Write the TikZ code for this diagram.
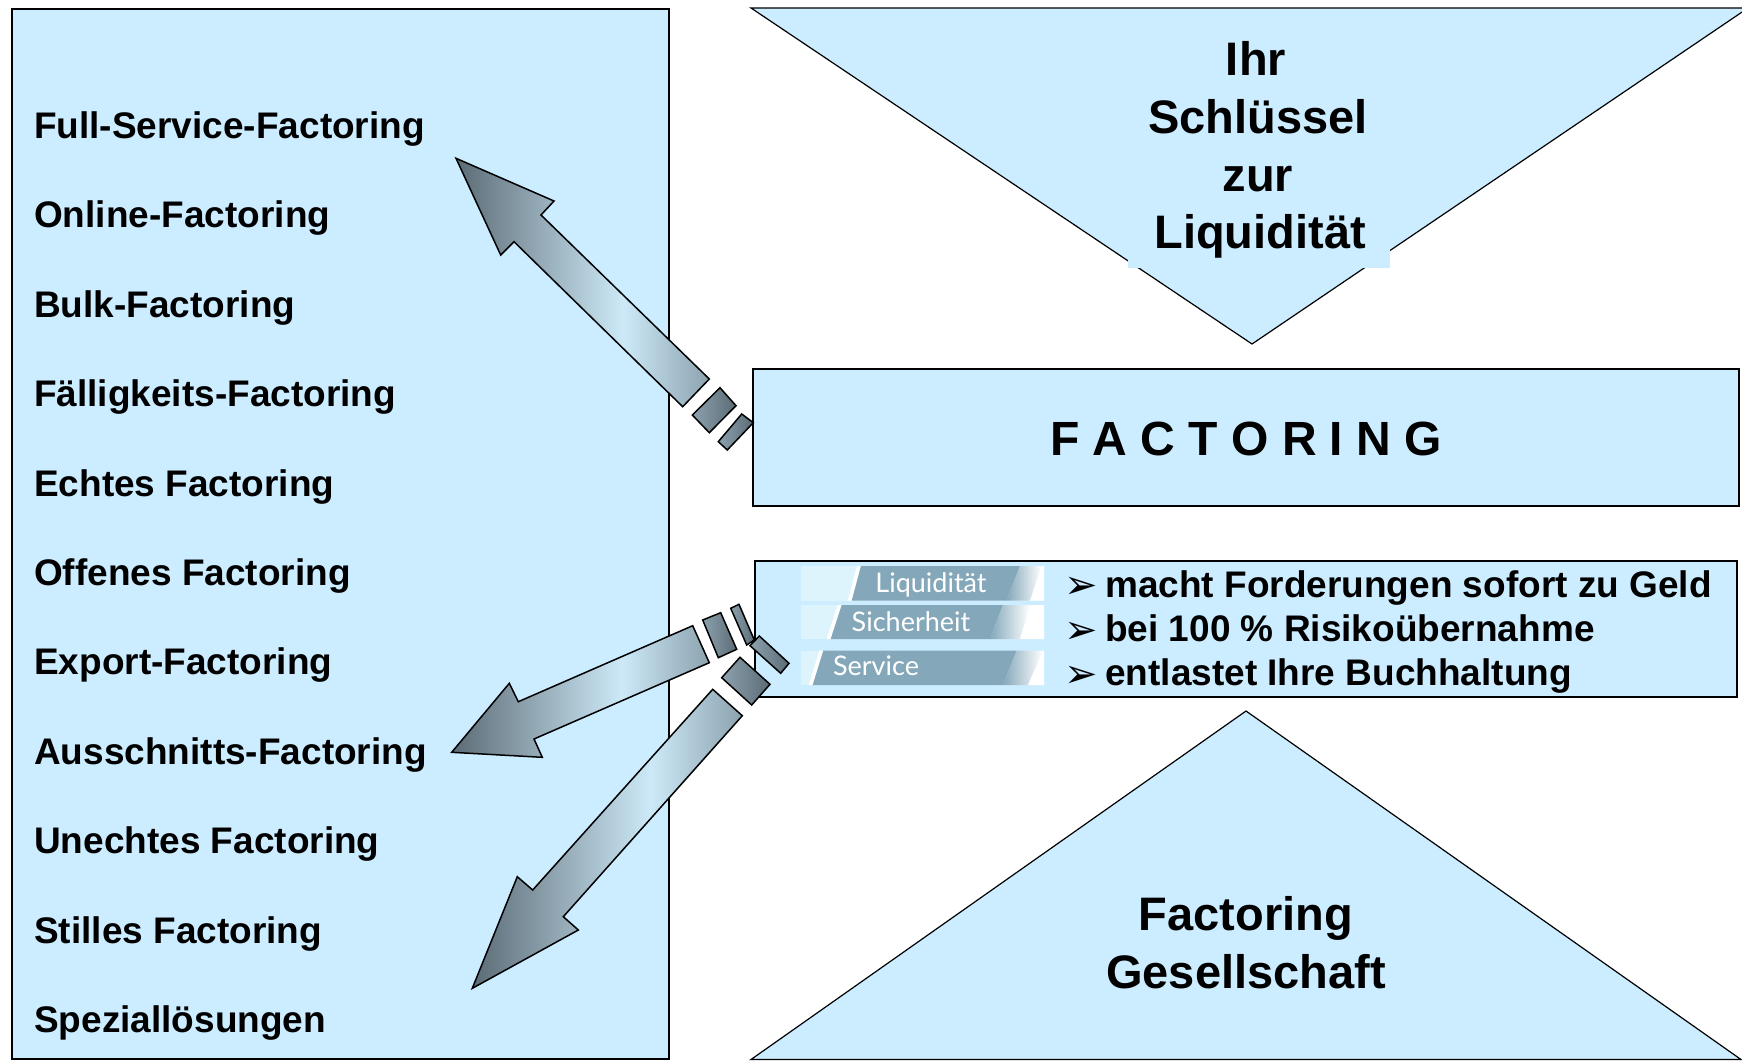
\documentclass[tikz,border=0pt]{standalone}
\usepackage{fontspec}
\setmainfont{Liberation Sans}
\newfontfamily\barfont{Lato}
\newfontfamily\symfont{DejaVu Sans}
\definecolor{panelblue}{HTML}{CCECFF}
\definecolor{adark}{HTML}{5B6B75}
\definecolor{alight}{HTML}{CDE9F7}
\definecolor{agray}{HTML}{8CA2AF}
\definecolor{barblue}{HTML}{84A8BA}
\definecolor{barlight}{HTML}{DDF4FC}
\pgfdeclarehorizontalshading{arrowshade}{100bp}{color(0bp)=(adark); color(25bp)=(adark); color(58bp)=(alight); color(75bp)=(agray); color(100bp)=(agray)}
\begin{document}
\begin{tikzpicture}[x=1pt,y=-1pt,
  panel/.style={fill=panelblue, draw=black, line width=1.6pt},
  tri/.style={fill=panelblue, draw=black, line width=1.2pt, line join=miter},
  arrowbody/.style={shade, shading=arrowshade, draw=black, line width=1.5pt, line join=miter},
  arrowpiece/.style={left color=agray, right color=adark, draw=black, line width=1.5pt, line join=miter},
  item/.style={anchor=base west, inner sep=0pt, font=\fontsize{37}{37}\selectfont\bfseries},
  bigtext/.style={anchor=base, inner sep=0pt, font=\fontsize{47}{47}\selectfont\bfseries},
  bartext/.style={anchor=base, inner sep=0pt, text=white, font=\barfont\fontsize{27}{27}\selectfont},
  bullet/.style={anchor=base west, inner sep=0pt, font=\symfont\fontsize{40}{40}\selectfont},
]
\useasboundingbox (0,0) rectangle (1742,1060);
\fill[white] (0,0) rectangle (1742,1060);

% left panel
\draw[panel] (12,9) rectangle (669,1059);
\foreach \t [count=\i] in {Full-Service-Factoring, Online-Factoring, Bulk-Factoring, Fälligkeits-Factoring, Echtes Factoring, Offenes Factoring, Export-Factoring, Ausschnitts-Factoring, Unechtes Factoring, Stilles Factoring, Speziallösungen}
  \node[item] (item\i) at (34,{138.3+(\i-1)*89.44}) {\t};

% top triangle
\draw[tri] (751,8) -- (1748,8) -- (1252,344) -- cycle;
\fill[panelblue] (1128,205) rectangle (1390,268);
\node[bigtext] (t1) at (1256,75) {Ihr};
\node[bigtext] (t2) at (1258,133) {Schlüssel};
\node[bigtext] (t3) at (1258,191) {zur};
\node[bigtext] (t4) at (1260,248) {Liquidität};

% FACTORING box
\draw[panel] (753,369) rectangle (1739,506);
\node[anchor=base, inner sep=0pt, font=\fontsize{48}{48}\selectfont\bfseries] (fact) at (1246,455) {F A C T O R I N G};

% benefit box
\draw[panel] (755,561) rectangle (1737,697);

% bars: y0,y1, blue start top/bottom, fade start top/bottom, white top/bottom
\foreach \ya/\yb/\bst/\bsb/\fst/\fsb/\wt/\wb [count=\k] in
  {566/600.7/861/851.7/1020/1006.7/1041.7/1030,
   605/639/841.7/830.7/1003/990/1030/1020,
   650.7/685/823.3/812.7/1016.7/1003/1043/1028}{
  \fill[barlight] (801,\ya) rectangle (1044,\yb);
  \fill[white] (\bst-4,\ya) -- (\bst,\ya) -- (\bsb,\yb) -- (\bsb-4,\yb) -- cycle;
  \fill[barblue] (\bst,\ya) -- (\fst,\ya) -- (\fsb,\yb) -- (\bsb,\yb) -- cycle;
  \shade[left color=barblue, right color=white] (\fst,\ya) -- (\wt,\ya) -- (\wb,\yb) -- (\fsb,\yb) -- cycle;
  \fill[white] (\wt,\ya) -- (1044,\ya) -- (1044,\yb) -- (\wb,\yb) -- cycle;
}
\node[bartext] (b1) at (931,592) {Liquidität};
\node[bartext] (b2) at (911,631) {Sicherheit};
\node[bartext] (b3) at (876,675) {Service};

\node[bullet] (p1) at (1064,598) {➢};
\node[bullet] (p2) at (1064,643) {➢};
\node[bullet] (p3) at (1064,687) {➢};
\node[item] (l1) at (1105,597) {macht Forderungen sofort zu Geld};
\node[item] (l2) at (1105,641.5) {bei 100 \% Risikoübernahme};
\node[item] (l3) at (1105,685.5) {entlastet Ihre Buchhaltung};

% bottom triangle
\draw[tri] (1246,711) -- (1741,1059.5) -- (751,1059.5) -- cycle;
\node[bigtext] (g1) at (1246,930) {Factoring};
\node[bigtext] (g2) at (1246,988) {Gesellschaft};

% arrow 1 (up-left)
\path[arrowbody] (456,158.3) -- (554,201) -- (541,215) -- (709.3,379) -- (682.7,406.7) -- (514,241.7) -- (500.7,255) -- cycle;
\path[arrowpiece] (720,387.7) -- (736,405.7) -- (709.3,432.7) -- (692.3,415) -- cycle;
\path[arrowpiece] (741.7,414) -- (753.3,422.7) -- (727.3,450) -- (718.3,441.7) -- cycle;

% arrow 2 (left)
\path[arrowbody] (451.7,752.3) -- (509.3,683.3) -- (518.3,701.7) -- (692.7,625.7) -- (709.3,662.7) -- (534,739) -- (542.3,757.3) -- cycle;
\path[arrowpiece] (702.7,620) -- (720.7,612.7) -- (736.7,649.3) -- (718.3,657.7) -- cycle;
\path[arrowpiece] (730.7,608.3) -- (739,604.3) -- (754.3,640) -- (746.7,645) -- cycle;

% arrow 3 (down-left)
\path[arrowbody] (472.3,988.3) -- (517.3,876.7) -- (532.7,890) -- (712.7,689.3) -- (742.3,715.7) -- (563.3,916.7) -- (578.3,930) -- cycle;
\path[arrowpiece] (721.7,677.7) -- (740,657.3) -- (770,684.3) -- (751.7,705) -- cycle;
\path[arrowpiece] (750,645.7) -- (759.3,636) -- (789,663.3) -- (780.7,673.3) -- cycle;
\end{tikzpicture}
\end{document}
